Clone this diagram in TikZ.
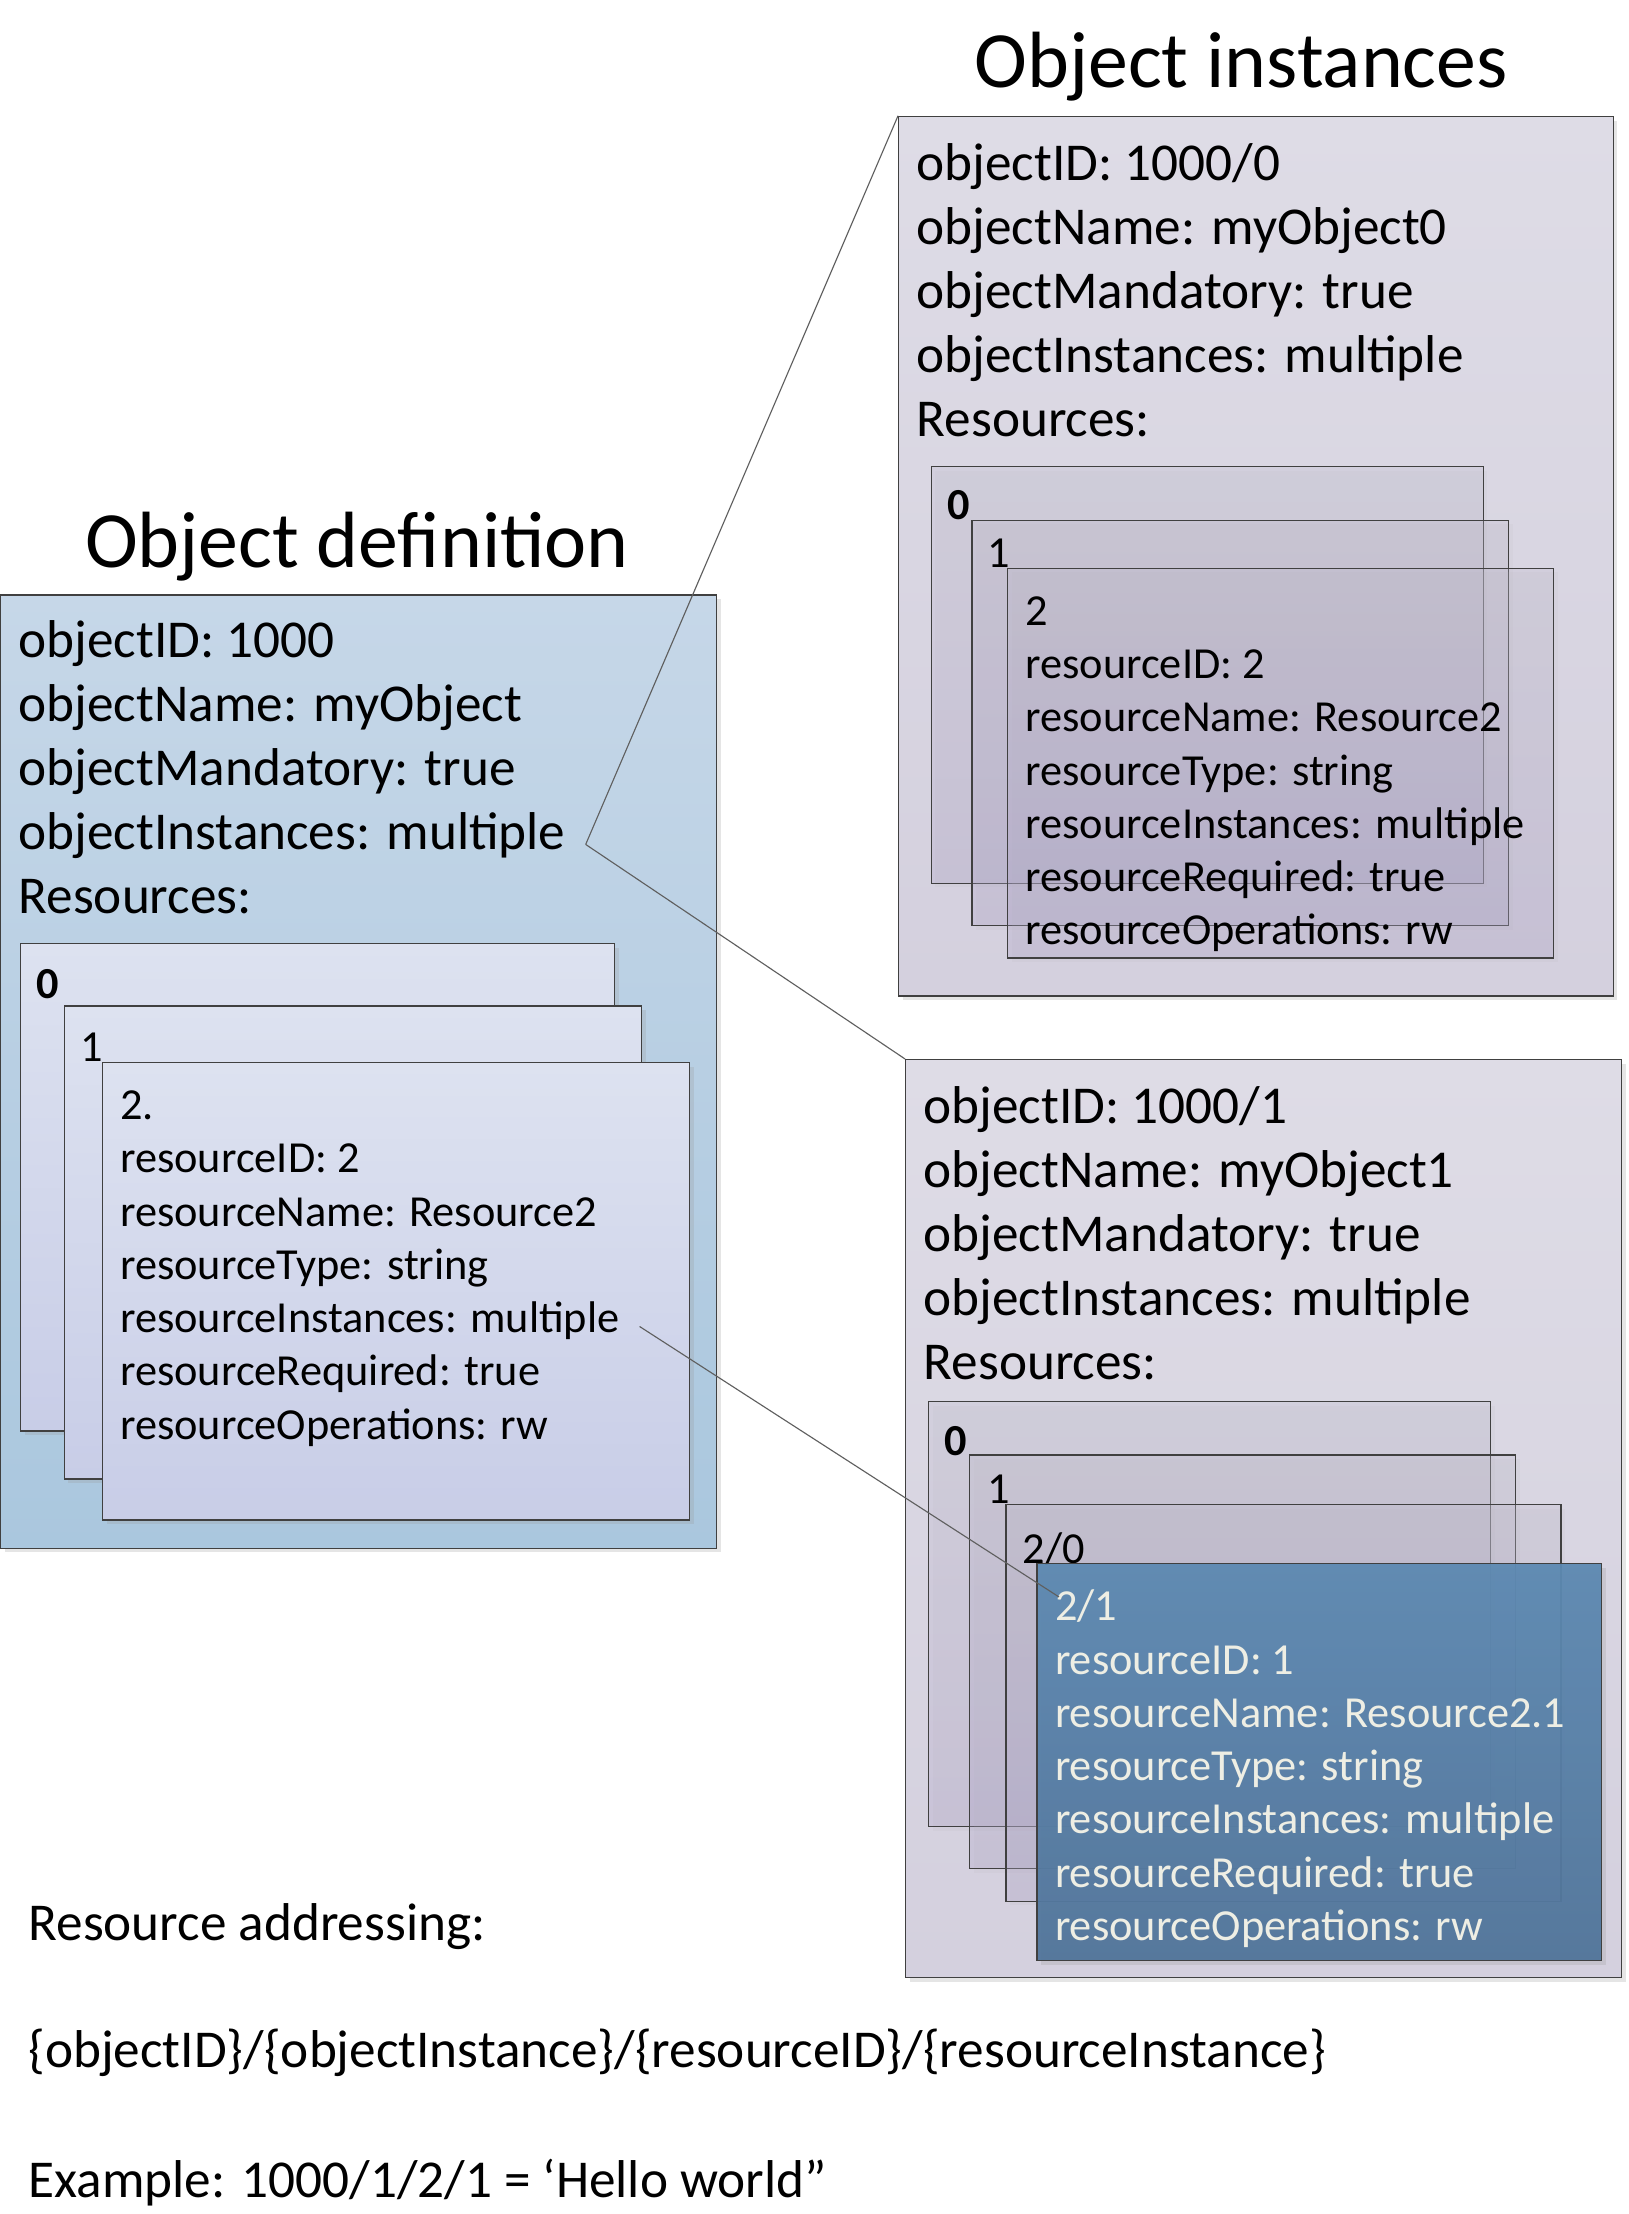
\documentclass[tikz,border=0pt]{standalone}
\usepackage{fontspec}
\setmainfont{Carlito}
\usetikzlibrary{shadows}
\definecolor{deftop}{RGB}{198,215,232}
\definecolor{defbot}{RGB}{170,199,222}
\definecolor{defcardtop}{RGB}{221,226,240}
\definecolor{defcardbot}{RGB}{200,205,231}
\definecolor{insttop}{RGB}{222,220,230}
\definecolor{instbot}{RGB}{212,208,222}
\definecolor{instcardtop}{RGB}{190,186,204}
\definecolor{instcardbot}{RGB}{168,156,198}
\definecolor{bluetop}{RGB}{92,137,178}
\definecolor{bluebot}{RGB}{80,116,154}
\definecolor{edgegray}{RGB}{64,64,64}
\definecolor{linkgray}{RGB}{95,95,95}
\definecolor{paletext}{RGB}{238,238,228}
\tikzset{
  box/.style={draw=edgegray, line width=0.9pt, anchor=north west, inner sep=0pt,
    drop shadow={shadow xshift=3pt, shadow yshift=-3pt, fill=black!40, opacity=0.25}},
  defbox/.style={box, top color=deftop, bottom color=defbot},
  instbox/.style={box, top color=insttop, bottom color=instbot},
  defcard/.style={box, top color=defcardtop, bottom color=defcardbot},
  instcard/.style={draw=edgegray, line width=0.9pt, anchor=north west, inner sep=0pt,
    drop shadow={shadow xshift=3pt, shadow yshift=-3pt, fill=black!30, opacity=0.1},
    top color=instcardtop, bottom color=instcardbot, fill opacity=0.25},
  bluecard/.style={box, top color=bluetop, bottom color=bluebot, fill opacity=0.94},
  title/.style={font=\fontsize{56.5}{68}\selectfont, anchor=base west, inner sep=0pt},
  big/.style={font=\fontsize{37.7}{45}\selectfont, anchor=base west, inner sep=0pt},
  small/.style={font=\fontsize{31.4}{38}\selectfont, anchor=base west, inner sep=0pt},
  link/.style={draw=linkgray, line width=0.8pt}
}

\begin{document}
\begin{tikzpicture}[x=1pt, y=-1pt]
  \useasboundingbox[fill=white] (0,0) rectangle (1153,1568);

  % titles
  \node[title] (deftitle) at (60,402) {Object definition};
  \node[title] (insttitle) at (690,62) {Object instances};

  % object definition
  \node[defbox, minimum width=507, minimum height=675] (def) at (0,421) {};
  \foreach \t [count=\i from 0] in {objectID: 1000, objectName: myObject,
      objectMandatory: true, objectInstances: multiple, Resources:}
    \node[big] (d\i) at (13,466+45.3*\i) {\t};
  \node[defcard, minimum width=421, minimum height=345] (dc0) at (14,668) {};
  \node[small] (dl0) at (26,707) {\textbf{0}};
  \node[defcard, minimum width=409, minimum height=335] (dc1) at (45,712) {};
  \node[small] (dl1) at (57,752) {1};
  \node[defcard, minimum width=416, minimum height=324] (dc2) at (72,752) {};
  \foreach \t [count=\i from 0] in {2., resourceID: 2, resourceName: Resource2,
      resourceType: string, resourceInstances: multiple, resourceRequired: true,
      resourceOperations: rw}
    \node[small] (r\i) at (85,793+37.7*\i) {\t};

  % object instance 0
  \node[instbox, minimum width=506, minimum height=623] (inst0) at (636,82) {};
  \foreach \t [count=\i from 0] in {objectID: 1000/0, objectName: myObject0,
      objectMandatory: true, objectInstances: multiple, Resources:}
    \node[big] (o\i) at (649,128+45.3*\i) {\t};
  \node[instcard, minimum width=391, minimum height=295] (ic0) at (659,330) {};
  \node[small] (il0) at (671,368) {\textbf{0}};
  \node[instcard, minimum width=380, minimum height=287] (ic1) at (688,368) {};
  \node[small] (il1) at (699,402) {1};
  \node[instcard, minimum width=387, minimum height=276] (ic2) at (713,402) {};
  \foreach \t [count=\i from 0] in {2, resourceID: 2, resourceName: Resource2,
      resourceType: string, resourceInstances: multiple, resourceRequired: true,
      resourceOperations: rw}
    \node[small] (p\i) at (726,443+37.7*\i) {\t};

  % object instance 1
  \node[instbox, minimum width=507, minimum height=650] (inst1) at (641,750) {};
  \foreach \t [count=\i from 0] in {objectID: 1000/1, objectName: myObject1,
      objectMandatory: true, objectInstances: multiple, Resources:}
    \node[big] (q\i) at (654,796+45.3*\i) {\t};
  \node[instcard, minimum width=398, minimum height=301] (jc0) at (657,992) {};
  \node[small] (jl0) at (669,1031) {\textbf{0}};
  \node[instcard, minimum width=387, minimum height=293] (jc1) at (686,1030) {};
  \node[small] (jl1) at (699,1065) {1};
  \node[instcard, minimum width=393, minimum height=281] (jc2) at (712,1065) {};
  \node[small] (jl2) at (724,1107) {2/0};
  \node[bluecard, minimum width=400, minimum height=281] (jc3) at (734,1107) {};
  \foreach \t [count=\i from 0] in {2/1, resourceID: 1, resourceName: Resource2.1,
      resourceType: string, resourceInstances: multiple, resourceRequired: true,
      resourceOperations: rw}
    \node[small, text=paletext] (b\i) at (747,1148+37.7*\i) {\t};

  % addressing
  \node[big] (addr) at (20,1374) {Resource addressing:};
  \node[big] (path) at (20,1464) {\{objectID\}/\{objectInstance\}/\{resourceID\}/\{resourceInstance\}};
  \node[big] (expl) at (20,1556) {Example: 1000/1/2/1 = ‘Hello world”};

  % links
  \coordinate (objpt) at ([xshift=14pt, yshift=-6pt]d3.east);
  \coordinate (respt) at ([xshift=14pt, yshift=-4pt]r4.east);
  \draw[link] (objpt) -- (inst0.north west);
  \draw[link] (objpt) -- (inst1.north west);
  \draw[link] (respt) -- ([xshift=3pt, yshift=-5pt]b0.north west);
\end{tikzpicture}
\end{document}
